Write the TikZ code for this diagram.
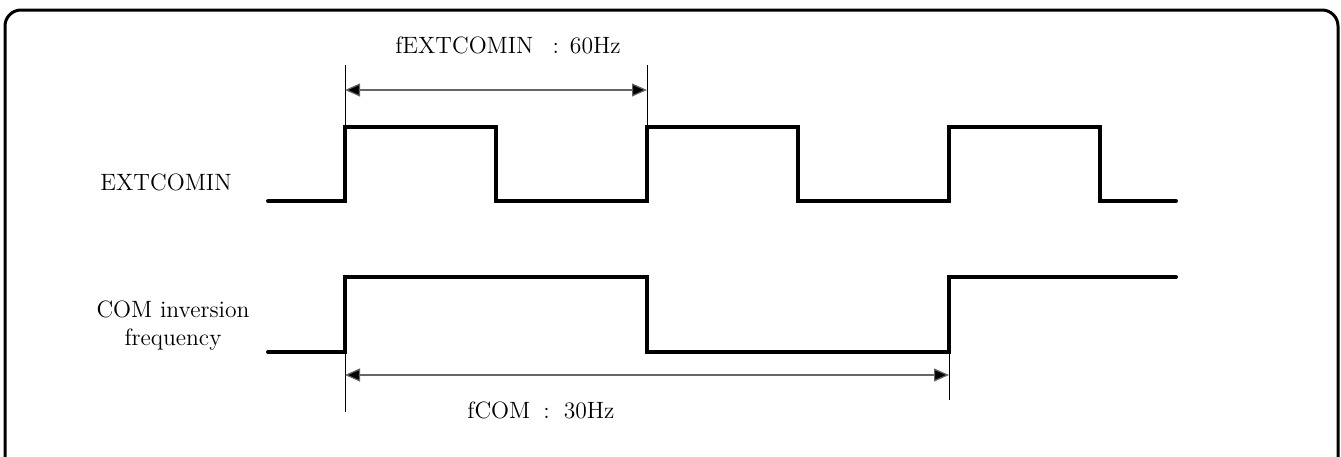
\documentclass[tikz,border=0pt]{standalone}
\usetikzlibrary{arrows.meta}
\begin{document}
\begin{tikzpicture}[x=0.5pt,y=-0.5pt,
  sig/.style={line width=2pt,line join=miter,line cap=round},
  ext/.style={line width=0.5pt},
  dim/.style={line width=0.6pt,draw=black!60,{Triangle[length=7.5pt,width=6.5pt,fill=black]}-{Triangle[length=7.5pt,width=6.5pt,fill=black]}},
  lbl/.style={font=\fontsize{11.8}{14}\selectfont,align=center,inner sep=0pt}]
\useasboundingbox (0,0) rectangle (1341,456);
\draw[line width=1.5pt,rounded corners=8pt] (5,470) -- (5,10) -- (1338,10) -- (1338,470);
% EXTCOMIN signal
\draw[sig] (268,201) -- (345,201) -- (345,127) -- (496,127) -- (496,201) -- (647,201) -- (647,127) -- (798,127) -- (798,201) -- (949,201) -- (949,127) -- (1100,127) -- (1100,201) -- (1176,201);
% COM signal
\draw[sig] (268,352) -- (345,352) -- (345,277) -- (647,277) -- (647,352) -- (949,352) -- (949,277) -- (1176,277);
% labels
\node[lbl] (l1) at (166,182) {EXTCOMIN};
\node[lbl] (l2) at (173,326) {COM inversion\\frequency};
% top dimension
\coordinate (t1) at (345,65);
\coordinate (t2) at (647,65);
\coordinate (t1b) at (345,127);
\coordinate (t2b) at (647,127);
\draw[ext] (t1) -- (t1b);
\draw[ext] (t2) -- (t2b);
\coordinate (a1) at (345,90);
\coordinate (a2) at (647,90);
\draw[dim] (a1) -- (a2);
\node[lbl] (f1) at (508,45) {fEXTCOMIN\hspace{9.5pt}:\hspace{5.5pt}60Hz};
% bottom dimension
\coordinate (b1) at (345,352);
\coordinate (b2) at (949,352);
\coordinate (b1e) at (345,412);
\coordinate (b2e) at (949,400);
\draw[ext] (b1) -- (b1e);
\draw[ext] (b2) -- (b2e);
\coordinate (c1) at (345,375);
\coordinate (c2) at (949,375);
\draw[dim] (c1) -- (c2);
\node[lbl] (f2) at (541,410) {fCOM\hspace{6.5pt}:\hspace{7pt}30Hz};
\end{tikzpicture}
\end{document}
